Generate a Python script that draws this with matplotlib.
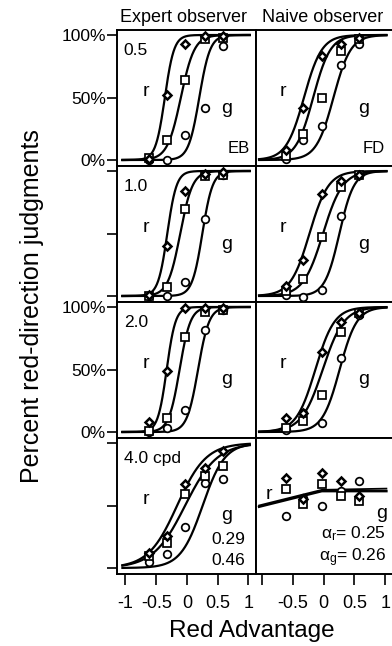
import numpy as np
import matplotlib.pyplot as plt

plt.rcParams['font.family'] = ['Liberation Sans', 'DejaVu Sans']
plt.rcParams['mathtext.fontset'] = 'custom'
plt.rcParams['mathtext.rm'] = 'Liberation Sans'
plt.rcParams['mathtext.it'] = 'Liberation Sans'

# panels in reading order: (EB, FD) x (0.5, 1.0, 2.0, 4.0 cpd)
observers = ['Expert observer', 'Naive observer']
freq_labels = ['0.5', '1.0', '2.0', '4.0 cpd']
x_levels = [-0.62, -0.33, -0.03, 0.29, 0.58]

diamond_y = [
    [1, 52, 93, 99, 99],
    [8, 42, 83, 93, 98],
    [1, 40, 84, 98, 99],
    [8, 29, 82, 92, 97],
    [8, 49, 99, 99, 99],
    [11, 15, 64, 88, 95],
    [12, 26, 67, 80, 94],
    [72, 55, 76, 70, 58],
]
square_y = [
    [1.5, 16, 64, 97, 98],
    [3, 21, 50, 87, 97],
    [0, 7, 70, 96, 97],
    [4, 13.5, 47, 87, 97],
    [1, 11, 76, 96, 98],
    [3, 9, 30, 80, 95],
    [10, 20, 59, 74, 82],
    [63, 51, 67, 58, 54],
]
circle_y = [
    [0, 0, 20, 42, 91],
    [1, 16, 27, 76, 93],
    [0, 0, 11, 62, 97],
    [1, -1, 5, 64, 97],
    [0, 3, 18, 82, 98],
    [2, 15, 7, 59, 94],
    [5, 11, 33, 68, 71],
    [42, 56, 50, 62, 70],
]

# fitted psychometric curves (r, middle, g): midpoint and spread
fit_mid = [
    [-0.36, -0.10, 0.20],
    [-0.32, -0.17, 0.16],
    [-0.32, -0.11, 0.25],
    [-0.23, -0.01, 0.256],
    [-0.33, -0.12, 0.18],
    [-0.135, -0.015, 0.26],
    [-0.16, -0.03, 0.255],
]
fit_width = [
    [0.075, 0.11, 0.088],
    [0.145, 0.14, 0.14],
    [0.075, 0.10, 0.083],
    [0.154, 0.16, 0.118],
    [0.072, 0.088, 0.09],
    [0.155, 0.172, 0.14],
    [0.235, 0.26, 0.18],
]

# naive observer at 4 cpd: nearly flat fitted lines
flat_x = [-1.05, -0.03, 1.02]
flat_r = [49, 61.5, 61.5]
flat_g = [50, 62.5, 63.5]

FIG_W, FIG_H = 392, 646
LEFT, COL_W, TOP, ROW_H = 117, 139, 30, 136

fig = plt.figure(figsize=(FIG_W / 100, FIG_H / 100), dpi=100)
xs = np.linspace(-1.05, 1.02, 300)

for row in range(4):
    for col in range(2):
        k = row * 2 + col
        ax = fig.add_axes([(LEFT + COL_W * col) / FIG_W,
                           1 - (TOP + ROW_H * (row + 1)) / FIG_H,
                           COL_W / FIG_W, ROW_H / FIG_H])
        ax.set_ylim(-4.8, 104)
        if col == 0:
            ax.set_xlim(-1.138, 1.122)
        else:
            ax.set_xlim(-1.10, 1.16)

        if k < 7:
            for mid, wid in zip(fit_mid[k], fit_width[k]):
                ax.plot(xs, 100 / (1 + np.exp(-(xs - mid) / wid)),
                        color='black', lw=1.6, zorder=2)
        else:
            ax.plot(flat_x, flat_r, color='black', lw=1.8, zorder=2)
            ax.plot(flat_x, flat_g, color='black', lw=1.3, zorder=2)

        ax.plot(x_levels, circle_y[k], 'o', ms=5.5, mfc='white',
                mec='black', mew=1.25, zorder=3)
        ax.plot(x_levels, square_y[k], 's', ms=5.2, mfc='white',
                mec='black', mew=1.25, zorder=4)
        ax.plot(x_levels, diamond_y[k], 'D', ms=4.2, mfc='white',
                mec='black', mew=1.8, zorder=5)

        for sp in ax.spines.values():
            sp.set_linewidth(1.4)

        # y ticks only on the left column, labels on rows 1 and 3
        if col == 0:
            ax.set_yticks([0, 50, 100])
            if row in (0, 2):
                ax.set_yticklabels(['0%', '50%', '100%'])
            else:
                ax.set_yticklabels([])
            ax.tick_params(axis='y', direction='out', length=7, width=1.2,
                           labelsize=12.5, pad=1)
        else:
            ax.set_yticks([])

        if row == 3:
            ax.set_xticks([-1, -0.5, 0, 0.5, 1])
            if col == 0:
                ax.set_xticklabels(['-1', '-0.5', '0', '0.5', '1'])
            else:
                ax.set_xticklabels(['', '-0.5', '0', '0.5', '1'])
            ax.tick_params(axis='x', direction='out', length=8, width=1.2,
                           labelsize=13, pad=7)
        else:
            ax.set_xticks([])

        # panel annotations
        if col == 0:
            ax.text(-1.03, 84, freq_labels[row], fontsize=12.5,
                    ha='left', va='baseline')
        if k < 7:
            ax.text(-0.67, 51, 'r', fontsize=14, ha='center', va='baseline')
            ax.text(0.65, 38, 'g', fontsize=14, ha='center', va='baseline')
        else:
            ax.text(-0.89, 55, 'r', fontsize=14, ha='center', va='baseline')
            ax.text(0.94, 40, 'g', fontsize=14, ha='center', va='baseline')
            ax.text(1.01, 24, r'$\alpha_r$= 0.25', fontsize=12.5,
                    ha='right', va='baseline')
            ax.text(1.01, 5.6, r'$\alpha_g$= 0.26', fontsize=12.5,
                    ha='right', va='baseline')
        if k == 0:
            ax.text(1.03, 5.4, 'EB', fontsize=12, ha='right', va='baseline')
        if k == 1:
            ax.text(1.0, 5.4, 'FD', fontsize=12, ha='right', va='baseline')
        if k == 6:
            ax.text(0.95, 19, '0.29', fontsize=12.5, ha='right', va='baseline')
            ax.text(0.95, 2.2, '0.46', fontsize=12.5, ha='right', va='baseline')

fig.text(183 / FIG_W, 1 - 18 / FIG_H, observers[0], fontsize=13,
         ha='center', va='center')
fig.text(322.5 / FIG_W, 1 - 18 / FIG_H, observers[1], fontsize=13,
         ha='center', va='center')
fig.text(32 / FIG_W, 1 - 306 / FIG_H, 'Percent red-direction judgments',
         rotation=90, fontsize=18, ha='center', va='center')
fig.text(251.5 / FIG_W, 1 - 631 / FIG_H, 'Red Advantage', fontsize=17.5,
         ha='center', va='center')

plt.savefig('out.png', dpi=100)
